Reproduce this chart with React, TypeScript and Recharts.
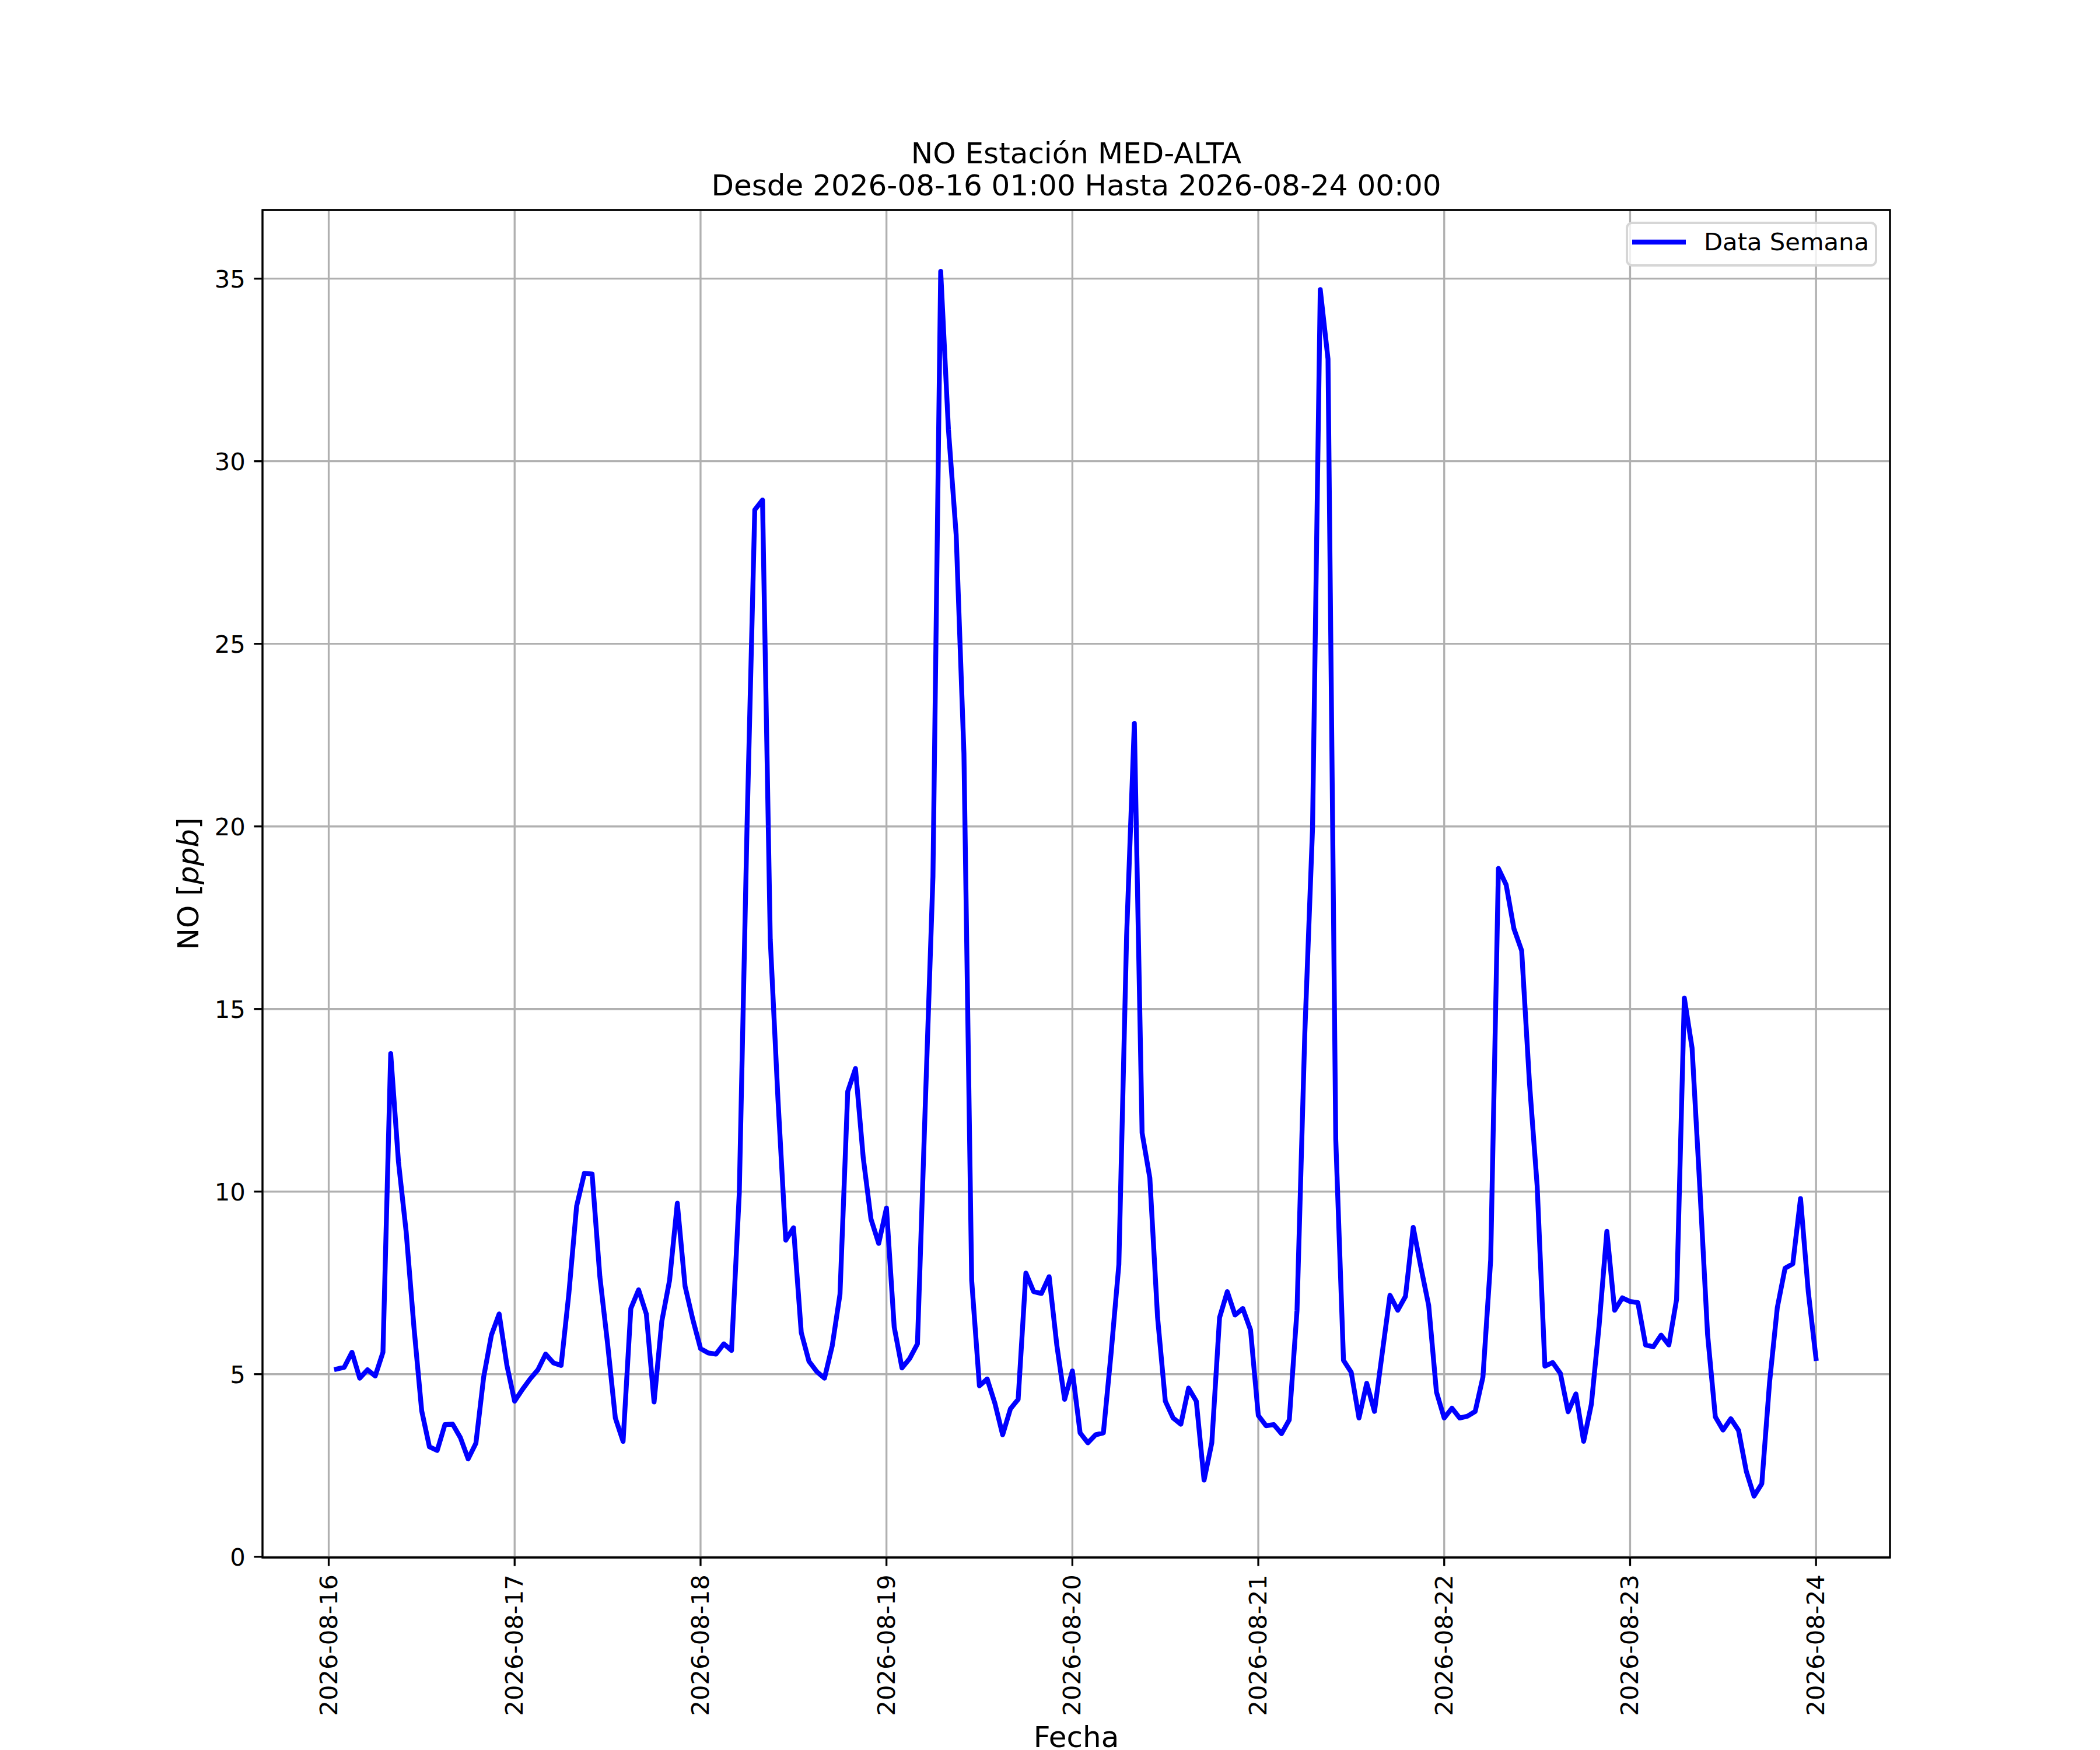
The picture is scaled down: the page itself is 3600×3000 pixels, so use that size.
import { CartesianGrid, Legend, Line, LineChart, ReferenceArea, XAxis, YAxis } from "recharts";

// NO hourly values [ppb], 2026-08-16 01:00 -> 2026-08-24 00:00
const noValues = [
  5.14, 5.19, 5.6, 4.89, 5.12, 4.95, 5.6, 13.78, 10.82, 8.89, 6.29, 4.0,
  3.01, 2.91, 3.62, 3.63, 3.26, 2.68, 3.11, 4.92, 6.07, 6.65, 5.24, 4.26,
  4.58, 4.87, 5.12, 5.55, 5.31, 5.24, 7.21, 9.6, 10.5, 10.48, 7.67, 5.83,
  3.8, 3.16, 6.8, 7.31, 6.65, 4.24, 6.45, 7.57, 9.68, 7.41, 6.5, 5.7,
  5.58, 5.55, 5.83, 5.65, 9.96, 20.0, 28.67, 28.94, 16.9, 12.5, 8.67, 9.01,
  6.14, 5.35, 5.07, 4.89, 5.78, 7.19, 12.74, 13.37, 10.93, 9.25, 8.58, 9.55,
  6.29, 5.17, 5.43, 5.83, 12.3, 18.62, 35.2, 30.87, 27.98, 22.0, 7.57, 4.68,
  4.87, 4.2, 3.34, 4.05, 4.31, 7.77, 7.26, 7.21, 7.67, 5.78, 4.31, 5.09,
  3.39, 3.12, 3.34, 3.39, 5.58, 8.0, 17.0, 22.82, 11.61, 10.37, 6.55, 4.26,
  3.8, 3.63, 4.62, 4.26, 2.1, 3.12, 6.55, 7.26, 6.62, 6.8, 6.21, 3.87,
  3.59, 3.62, 3.37, 3.75, 6.75, 14.3, 19.93, 34.7, 32.8, 11.44, 5.38, 5.05,
  3.8, 4.75, 3.98, 5.58, 7.16, 6.75, 7.13, 9.02, 7.92, 6.88, 4.51, 3.8,
  4.07, 3.8, 3.85, 3.98, 4.92, 8.13, 18.85, 18.4, 17.2, 16.6, 13.0, 10.16,
  5.22, 5.32, 5.02, 3.97, 4.46, 3.16, 4.18, 6.34, 8.91, 6.75, 7.09, 6.99,
  6.96, 5.8, 5.75, 6.07, 5.8, 7.05, 15.3, 13.93, 10.11, 6.09, 3.83, 3.47,
  3.78, 3.46, 2.34, 1.66, 2.0, 4.77, 6.82, 7.9, 8.02, 9.81, 7.26, 5.43,
];

// x ticks in hours since 2026-08-16 00:00
const dayTicks = [0, 24, 48, 72, 96, 120, 144, 168, 192];
const dayLabels = [
  "2026-08-16", "2026-08-17", "2026-08-18", "2026-08-19", "2026-08-20",
  "2026-08-21", "2026-08-22", "2026-08-23", "2026-08-24",
];
const yTicks = [0, 5, 10, 15, 20, 25, 30, 35];

const data = noValues.map((v, i) => ({ h: i + 1, no: v }));

const FONT = "DejaVu Sans, sans-serif";
const X_DOMAIN: [number, number] = [-8.55, 201.55];
const Y_DOMAIN: [number, number] = [-0.02, 36.88];

function XTick(props: any) {
  const { x, y, payload } = props;
  const label = dayLabels[dayTicks.indexOf(payload.value)];
  const bx = x + 14;
  return (
    <text
      x={bx}
      y={y}
      transform={`rotate(-90, ${bx}, ${y})`}
      textAnchor="end"
      fontFamily={FONT}
      fontSize={41.7}
      fill="#000"
    >
      {label}
    </text>
  );
}

function YTick(props: any) {
  const { x, y, payload } = props;
  return (
    <text x={x} y={y + 15} textAnchor="end" fontFamily={FONT} fontSize={41.7} fill="#000">
      {payload.value}
    </text>
  );
}

function YLabel(props: any) {
  const vb = props.viewBox;
  const cx = vb.x + vb.width - 110;
  const cy = vb.y + vb.height / 2;
  return (
    <text
      x={cx}
      y={cy}
      transform={`rotate(-90, ${cx}, ${cy})`}
      textAnchor="middle"
      fontFamily={FONT}
      fontSize={50}
      fill="#000"
    >
      NO [<tspan fontStyle="italic">ppb</tspan>]
    </text>
  );
}

function XLabel(props: any) {
  const vb = props.viewBox;
  return (
    <text
      x={vb.x + vb.width / 2}
      y={vb.y + 325}
      textAnchor="middle"
      fontFamily={FONT}
      fontSize={50}
      fill="#000"
    >
      Fecha
    </text>
  );
}

function LegendBox(props: any) {
  const item = props.payload && props.payload[0];
  return (
    <svg width={431} height={77}>
      <rect x={2} y={2} width={427} height={73} rx={9} fill="#fff" fillOpacity={0.8} stroke="#d6d6d6" strokeWidth={4} />
      <line x1={11} y1={35} x2={103} y2={35} stroke={item ? item.color : "#0000ff"} strokeWidth={8.33} />
      <text x={134} y={49} fontFamily={FONT} fontSize={41.7} fill="#000">
        {item ? item.value : "Data Semana"}
      </text>
    </svg>
  );
}

export default function App() {
  return (
    <div style={{ position: "absolute", left: 0, top: 0, width: 3600, height: 3000, background: "#fff" }}>
      <LineChart width={3600} height={3000} data={data} margin={{ top: 360, right: 360, bottom: 0, left: 0 }}>
        <CartesianGrid stroke="#b0b0b0" strokeWidth={3.33} />
        <XAxis
          dataKey="h"
          type="number"
          domain={X_DOMAIN}
          allowDataOverflow
          ticks={dayTicks}
          interval={0}
          height={330}
          tickSize={14.6}
          tickMargin={14.6}
          axisLine={false}
          tickLine={{ stroke: "#000", strokeWidth: 3.33 }}
          tick={<XTick />}
          label={<XLabel />}
        />
        <YAxis
          type="number"
          domain={Y_DOMAIN}
          allowDataOverflow
          ticks={yTicks}
          interval={0}
          width={450}
          tickSize={14.6}
          tickMargin={14.6}
          axisLine={false}
          tickLine={{ stroke: "#000", strokeWidth: 3.33 }}
          tick={<YTick />}
          label={<YLabel />}
        />
        <ReferenceArea
          x1={X_DOMAIN[0]}
          x2={X_DOMAIN[1]}
          y1={Y_DOMAIN[0]}
          y2={Y_DOMAIN[1]}
          fill="none"
          stroke="#000"
          strokeWidth={3.33}
          ifOverflow="visible"
        />
        <Legend
          layout="horizontal"
          align="center"
          verticalAlign="middle"
          content={<LegendBox />}
          wrapperStyle={{ position: "absolute", left: 2787, top: 380, width: 431, height: 77 }}
        />
        <Line
          type="linear"
          dataKey="no"
          name="Data Semana"
          stroke="#0000ff"
          strokeWidth={8.33}
          strokeLinejoin="round"
          strokeLinecap="square"
          dot={false}
          activeDot={false}
          isAnimationActive={false}
        />
      </LineChart>
      <svg style={{ position: "absolute", left: 0, top: 0 }} width={3600} height={360}>
        <text x={1845} y={280} textAnchor="middle" fontFamily={FONT} fontSize={50} fill="#000">
          NO Estación MED-ALTA
        </text>
        <text x={1845} y={335} textAnchor="middle" fontFamily={FONT} fontSize={50} fill="#000">
          Desde 2026-08-16 01:00 Hasta 2026-08-24 00:00
        </text>
      </svg>
    </div>
  );
}
